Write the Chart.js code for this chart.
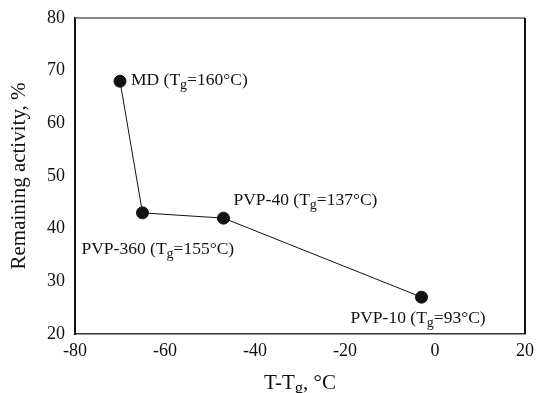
<!DOCTYPE html>
<html lang="en">
  <head>
    <meta charset="UTF-8" />
    <title>Remaining activity vs T-Tg</title>
    <script src="https://cdn.jsdelivr.net/npm/chart.js@4.4.1/dist/chart.umd.min.js"></script>
    <style>
      html, body { margin: 0; padding: 0; background: #fff; }
      #wrap { width: 536px; height: 393px; }
    </style>
  </head>
  <body>
    <div id="wrap"><canvas id="activity-chart"></canvas></div>

    <script>
      // data
      const samples = ['MD', 'PVP-360', 'PVP-40', 'PVP-10'];
      const tgValues = [160, 155, 137, 93];          // glass transition, °C
      const tMinusTg = [-70, -65, -47, -3];           // x values
      const remainingActivity = [68, 43, 42, 27];     // y values, %
      const xTicks = [-80, -60, -40, -20, 0, 20];
      const yTicks = [20, 30, 40, 50, 60, 70, 80];

      // where each label sits relative to its point (px): dx to text start, dy to text middle
      const labelOffsets = [[11, -1], [-61, 37], [10, -18], [-71, 21]];

      const serif = '"Liberation Serif", "Times New Roman", serif';

      // writes "T" + subscript g in the middle of a string
      function drawTgText(ctx, x, y, before, after, size) {
        ctx.font = size + 'px ' + serif;
        ctx.textBaseline = 'middle';
        ctx.textAlign = 'left';
        ctx.fillText(before, x, y);
        x += ctx.measureText(before).width;
        ctx.font = (size * 0.8) + 'px ' + serif;
        ctx.fillText('g', x, y + size * 0.28);
        x += ctx.measureText('g').width;
        ctx.font = size + 'px ' + serif;
        ctx.fillText(after, x, y);
        return x + ctx.measureText(after).width;
      }

      const decorPlugin = {
        id: 'decor',
        afterDraw(chart) {
          const { ctx, chartArea: a, scales } = chart;
          ctx.save();
          // top and right frame lines
          ctx.strokeStyle = '#666';
          ctx.lineWidth = 1.5;
          ctx.beginPath();
          ctx.moveTo(a.left, a.top);
          ctx.lineTo(a.right, a.top);
          ctx.stroke();
          ctx.strokeStyle = '#111';
          ctx.lineWidth = 2;
          ctx.beginPath();
          ctx.moveTo(a.right, a.top);
          ctx.lineTo(a.right, a.bottom);
          ctx.stroke();

          // point labels
          ctx.fillStyle = '#111';
          samples.forEach((name, i) => {
            const px = scales.x.getPixelForValue(tMinusTg[i]);
            const py = scales.y.getPixelForValue(remainingActivity[i]);
            const [dx, dy] = labelOffsets[i];
            drawTgText(ctx, px + dx, py + dy, name + ' (T', '=' + tgValues[i] + '°C)', 17.5);
          });

          // x axis title with subscript, centred under the plot
          const size = 21;
          ctx.globalAlpha = 0;
          const w = drawTgText(ctx, 0, -100, 'T-T', ', °C', size);
          ctx.globalAlpha = 1;
          const cx = (a.left + a.right) / 2;
          drawTgText(ctx, cx - w / 2, 383, 'T-T', ', °C', size);
          ctx.restore();
        },
      };

      new Chart(document.getElementById('activity-chart'), {
        type: 'scatter',
        data: {
          datasets: [
            {
              data: tMinusTg.map((x, i) => ({ x, y: remainingActivity[i] })),
              showLine: true,
              borderColor: '#111',
              borderWidth: 1,
              backgroundColor: '#111',
              pointBackgroundColor: '#111',
              pointBorderColor: '#111',
              pointRadius: 6,
            },
          ],
        },
        options: {
          responsive: true,
          maintainAspectRatio: false,
          animation: false,
          layout: { padding: { top: 18, right: 11, left: 0, bottom: 0 } },
          plugins: {
            legend: { display: false },
            tooltip: { enabled: false },
          },
          scales: {
            x: {
              type: 'linear',
              min: -80,
              max: 20,
              afterBuildTicks: (s) => { s.ticks = xTicks.map((v) => ({ value: v })); },
              afterFit: (s) => { s.height = 59; },
              grid: { display: false, drawTicks: true, tickLength: 5, tickColor: '#333', tickWidth: 1.5 },
              border: { display: true, color: '#333', width: 1.5 },
              ticks: { color: '#111', padding: 1, font: { family: serif, size: 18 } },
            },
            y: {
              type: 'linear',
              min: 20,
              max: 80,
              afterBuildTicks: (s) => { s.ticks = yTicks.map((v) => ({ value: v })); },
              afterFit: (s) => { s.width = 75; },
              grid: { display: false, drawTicks: true, tickLength: 5, tickColor: '#111', tickWidth: 1.5 },
              border: { display: true, color: '#111', width: 2 },
              ticks: { color: '#111', padding: 5, font: { family: serif, size: 18 } },
              title: {
                display: true,
                text: 'Remaining activity, %',
                color: '#111',
                padding: { top: 7, bottom: 0 },
                font: { family: serif, size: 21 },
              },
            },
          },
        },
        plugins: [decorPlugin],
      });
    </script>
  </body>
</html>
